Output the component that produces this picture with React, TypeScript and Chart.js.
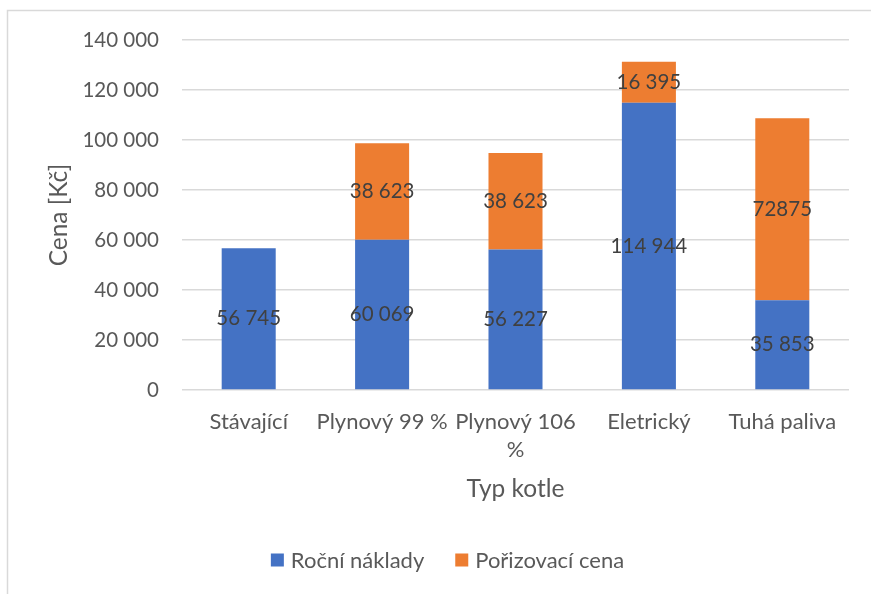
import React, { useEffect, useRef } from "react";
import { Chart, registerables } from "chart.js";

Chart.register(...registerables);

const categories: (string | string[])[] = [
  "Stávající",
  "Plynový 99 %",
  ["Plynový 106", "%"],
  "Eletrický",
  "Tuhá paliva",
];
const seriesNames = ["Roční náklady", "Pořizovací cena"];
const rocniNaklady = [56745, 60069, 56227, 114944, 35853];
const porizovaciCena: (number | null)[] = [null, 38623, 38623, 16395, 72875];
const rocniLabels = ["56 745", "60 069", "56 227", "114 944", "35 853"];
const porizovaciLabels = ["", "38 623", "38 623", "16 395", "72875"];
const yMin = 0;
const yMax = 140000;
const yStep = 20000;
const yTitle = "Cena [Kč]";
const xTitle = "Typ kotle";

const FONT = "Lato";
const FS = 20.5;
const FS_TEXT = 22;
const FS_TITLE = 24.5;
const TEXT = "#595959";
const LABEL = "#404040";
const GRID = "#d9d9d9";
const COLORS = ["#4472C4", "#ED7D31"];

const fmt = (v: number) => String(v).replace(/\B(?=(\d{3})+(?!\d))/g, " ");

const framePlugin = {
  id: "frame",
  beforeDraw(chart: any) {
    const ctx = chart.ctx;
    ctx.save();
    ctx.fillStyle = "#ffffff";
    ctx.fillRect(0, 0, chart.width, chart.height);
    ctx.strokeStyle = GRID;
    ctx.lineWidth = 1.5;
    ctx.beginPath();
    ctx.moveTo(7.5, chart.height);
    ctx.lineTo(7.5, 10.5);
    ctx.lineTo(chart.width, 10.5);
    ctx.stroke();
    ctx.restore();
  },
};

const labelPlugin = {
  id: "barLabels",
  afterDatasetsDraw(chart: any) {
    const ctx = chart.ctx;
    const all = [rocniLabels, porizovaciLabels];
    ctx.save();
    ctx.font = `${FS}px ${FONT}`;
    ctx.fillStyle = LABEL;
    ctx.textAlign = "center";
    ctx.textBaseline = "middle";
    chart.data.datasets.forEach((_: any, di: number) => {
      const meta = chart.getDatasetMeta(di);
      meta.data.forEach((el: any, i: number) => {
        const txt = all[di][i];
        if (!txt) return;
        const y = (el.y + el.base) / 2;
        ctx.fillText(txt, el.x, y);
      });
    });
    ctx.restore();
  },
};

const legendPlugin = {
  id: "customLegend",
  afterDraw(chart: any) {
    const ctx = chart.ctx;
    ctx.save();
    ctx.font = `${FS_TEXT}px ${FONT}`;
    ctx.textBaseline = "middle";
    ctx.textAlign = "left";
    const box = 13;
    const gapText = 7;
    const gapItem = 31;
    const widths = seriesNames.map((n) => ctx.measureText(n).width);
    let total = 0;
    widths.forEach((w, i) => {
      total += box + gapText + w + (i < widths.length - 1 ? gapItem : 0);
    });
    const cx = 447.5;
    const cy = 560;
    let x = cx - total / 2;
    seriesNames.forEach((n, i) => {
      ctx.fillStyle = COLORS[i];
      ctx.fillRect(x, cy - box / 2, box, box);
      x += box + gapText;
      ctx.fillStyle = TEXT;
      ctx.fillText(n, x, cy + 1);
      x += widths[i] + gapItem;
    });
    ctx.restore();
  },
};

export default function App() {
  const ref = useRef<HTMLCanvasElement | null>(null);
  useEffect(() => {
    let chart: Chart | null = null;
    let cancelled = false;
    const make = () => {
      if (cancelled || !ref.current) return;
      chart = new Chart(ref.current, {
        type: "bar",
        data: {
          labels: categories as any,
          datasets: [
            {
              label: seriesNames[0],
              data: rocniNaklady,
              backgroundColor: COLORS[0],
              barPercentage: 0.405,
              categoryPercentage: 1,
            },
            {
              label: seriesNames[1],
              data: porizovaciCena as any,
              backgroundColor: COLORS[1],
              barPercentage: 0.405,
              categoryPercentage: 1,
            },
          ],
        },
        options: {
          animation: false,
          responsive: false,
          devicePixelRatio: 1,
          layout: { padding: { left: 0, top: 40, right: 22, bottom: 74 } },
          plugins: {
            legend: { display: false },
            tooltip: { enabled: false },
          },
          scales: {
            x: {
              stacked: true,
              grid: { display: false, drawTicks: false },
              border: { display: false },
              ticks: {
                font: { family: FONT, size: FS_TEXT, lineHeight: 1.27 },
                color: TEXT,
                padding: 17.5,
                maxRotation: 0,
                autoSkip: false,
              },
              title: {
                display: true,
                text: xTitle,
                font: { family: FONT, size: FS_TITLE },
                color: TEXT,
                padding: { top: 0, bottom: 16.3 },
              },
              afterFit: (s: any) => {
                s.height = 130;
              },
            },
            y: {
              stacked: true,
              min: yMin,
              max: yMax,
              grid: { color: GRID, lineWidth: 1.5, drawTicks: false },
              border: { display: false },
              ticks: {
                stepSize: yStep,
                font: { family: FONT, size: FS },
                color: TEXT,
                padding: 23,
                callback: (v: any) => fmt(Number(v)),
              },
              title: {
                display: true,
                text: yTitle,
                font: { family: FONT, size: FS_TITLE },
                color: TEXT,
                padding: { top: 44.3, bottom: 0 },
              },
              afterFit: (s: any) => {
                s.width = 182;
              },
            },
          },
        },
        plugins: [framePlugin, labelPlugin, legendPlugin],
      });
    };
    const fonts: any = (document as any).fonts;
    if (fonts && fonts.load) {
      fonts.load(`${FS}px ${FONT}`).then(make, make);
    } else {
      make();
    }
    return () => {
      cancelled = true;
      if (chart) chart.destroy();
    };
  }, []);
  return (
    <div style={{ position: "fixed", left: 0, top: 0, width: 871, height: 594, background: "#fff" }}>
      <canvas ref={ref} width={871} height={594} style={{ display: "block", width: 871, height: 594 }} />
    </div>
  );
}
